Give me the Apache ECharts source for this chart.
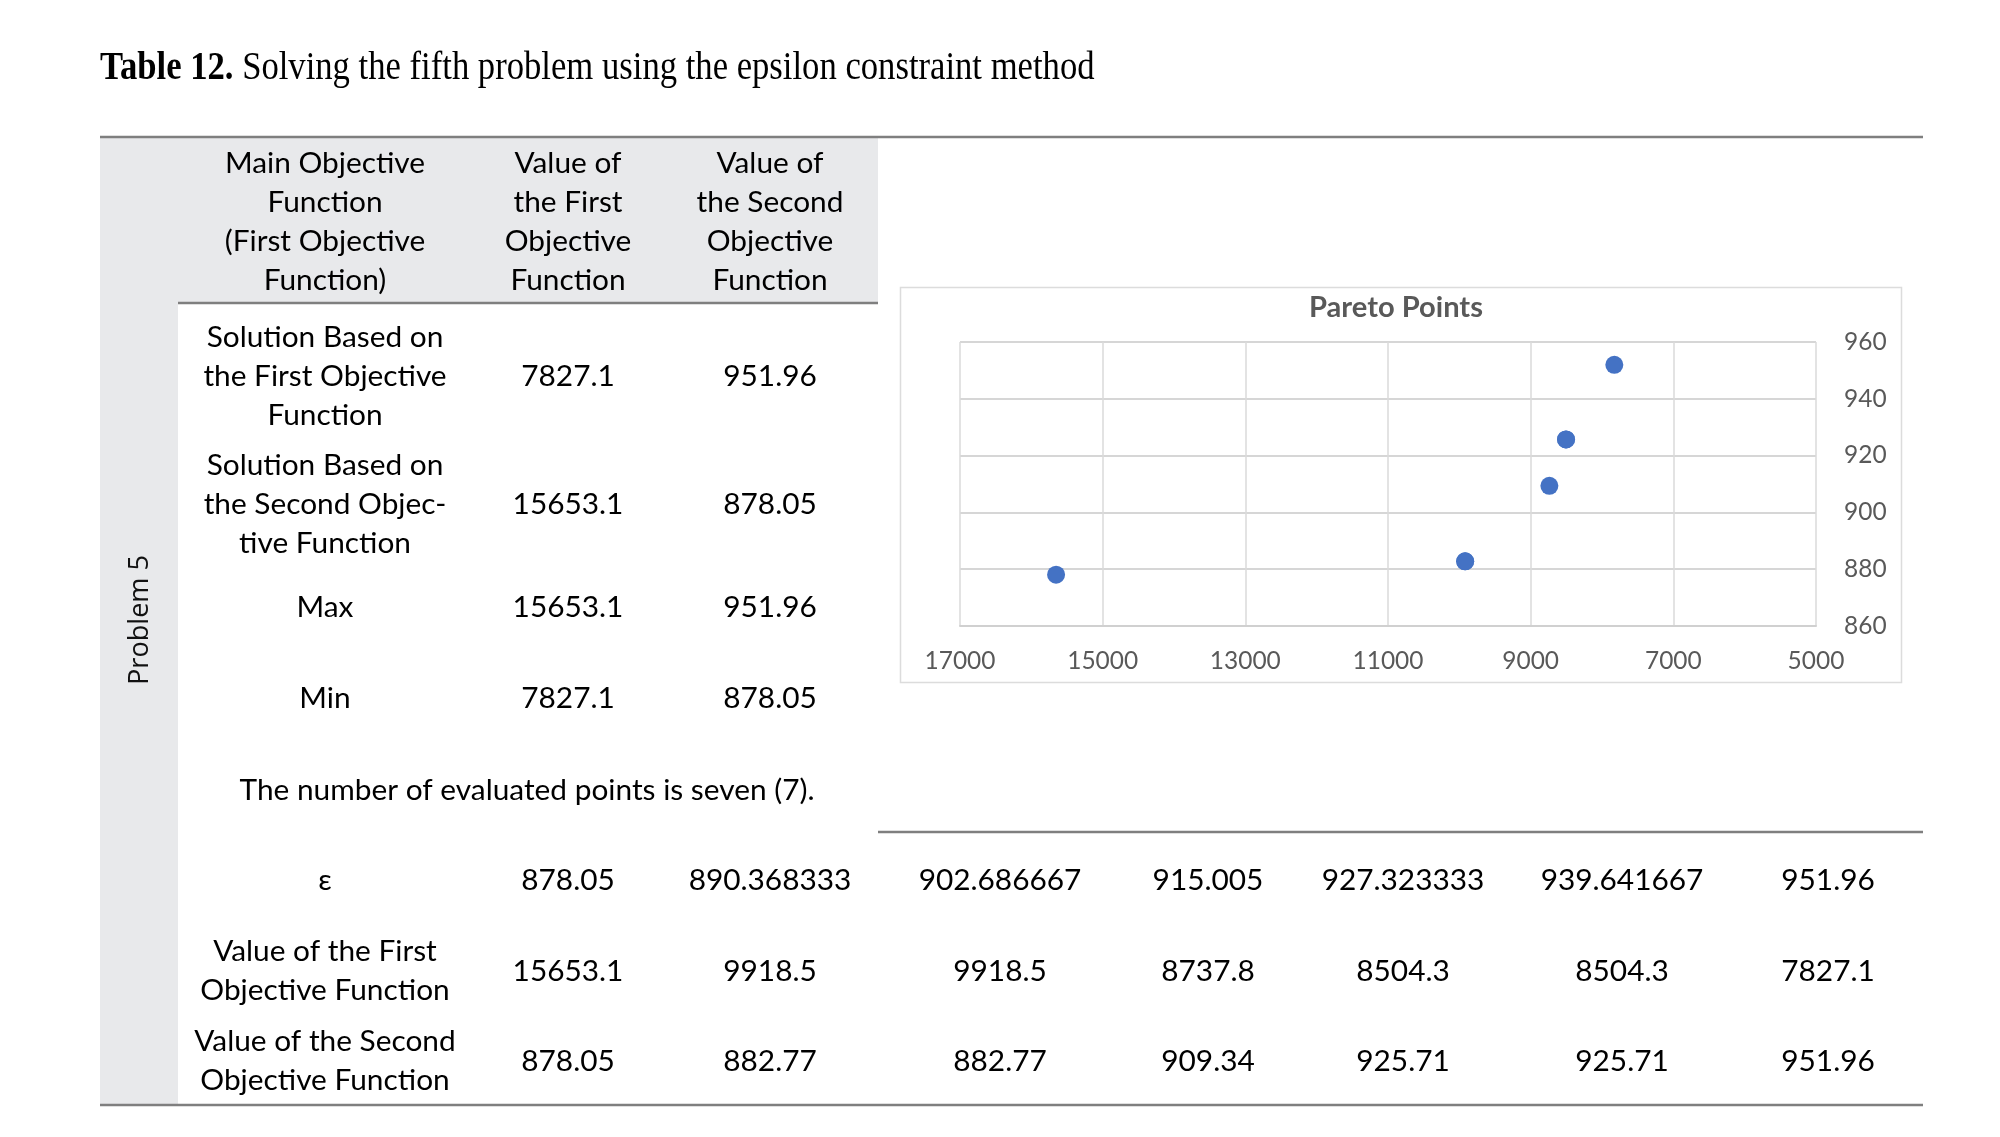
<!DOCTYPE html>
<html>
<head>
<meta charset="utf-8">
<script src="https://cdn.jsdelivr.net/npm/echarts@6/dist/echarts.min.js"></script>
<style>
html,body{margin:0;padding:0;background:#fff;}
#c{width:2000px;height:1137px;}
</style>
</head>
<body>
<div id="c"></div>
<script>
// ---------- data ----------
const titleBold = 'Table 12.';
const titleRest = ' Solving the fifth problem using the epsilon constraint method';
const sideLabel = 'Problem 5';
const headerCols = [
  'Main Objective\nFunction\n(First Objective\nFunction)',
  'Value of\nthe First\nObjective\nFunction',
  'Value of\nthe Second\nObjective\nFunction'
];
const rowLabels = [
  'Solution Based on\nthe First Objective\nFunction',
  'Solution Based on\nthe Second Objec-\ntive Function',
  'Max',
  'Min'
];
const firstObjValues = ['7827.1', '15653.1', '15653.1', '7827.1'];
const secondObjValues = ['951.96', '878.05', '951.96', '878.05'];
const noteText = 'The number of evaluated points is seven (7).';
const epsLabel = 'ε';
const epsilonValues = ['878.05', '890.368333', '902.686667', '915.005', '927.323333', '939.641667', '951.96'];
const f1Label = 'Value of the First\nObjective Function';
const f2Label = 'Value of the Second\nObjective Function';
const f1Values = [15653.1, 9918.5, 9918.5, 8737.8, 8504.3, 8504.3, 7827.1];
const f2Values = [878.05, 882.77, 882.77, 909.34, 925.71, 925.71, 951.96];
const chartTitle = 'Pareto Points';
const xTicks = {min: 5000, max: 17000, interval: 2000};
const yTicks = {min: 860, max: 960, interval: 20};

// ---------- layout helpers ----------
const cv = document.createElement('canvas').getContext('2d');
function fit(text, family, weight, target) {
  cv.font = (weight || 'normal') + ' 100px ' + family;
  return 100 * target / cv.measureText(text).width;
}
const TF = 'Lato';
const tableSize = fit(noteText, TF, 'normal', 575);
const titleSize = fit(titleBold + titleRest, '"Liberation Serif"', 'normal', 990);
const sideSize = fit(sideLabel, '"Open Sans"', 'normal', 130);
const ctSize = fit(chartTitle, TF, 'bold', 174);
const axSize = fit('17000', TF, 'normal', 71);

const colX = [325, 568, 770, 1000, 1208, 1403, 1622, 1828];
const LH = 39;
const ink = '#000';
const lineCol = '#7f7f7f';
const bandCol = '#e8e9eb';

function txt(x, y, text) {
  return {
    type: 'text', x: x, y: y, silent: true,
    style: {
      text: text, fontFamily: TF, fontSize: tableSize, fill: ink,
      align: 'center', verticalAlign: 'middle', lineHeight: LH
    }
  };
}
function hline(x1, x2, y, w, c) {
  return {type: 'line', silent: true, shape: {x1: x1, y1: y, x2: x2, y2: y},
    style: {stroke: c || lineCol, lineWidth: w || 2.5}};
}

const g = [];
// backgrounds
g.push({type: 'rect', silent: true, shape: {x: 100, y: 137, width: 778, height: 166}, style: {fill: bandCol}});
g.push({type: 'rect', silent: true, shape: {x: 100, y: 137, width: 78, height: 968}, style: {fill: bandCol}});
// chart frame
g.push({type: 'rect', silent: true, shape: {x: 900.5, y: 287.5, width: 1001, height: 395},
  style: {fill: 'none', stroke: '#dcdcdc', lineWidth: 1.5}});
// rules
g.push(hline(100, 1923, 137));
g.push(hline(178, 878, 303));
g.push(hline(878, 1923, 832));
g.push(hline(100, 1923, 1105));
// title
g.push({type: 'text', x: 100, y: 69, scaleY: 1.13, silent: true, style: {
  text: '{b|' + titleBold + '}{n|' + titleRest + '}',
  fontFamily: '"Liberation Serif"', fontSize: titleSize, fill: '#000',
  align: 'left', verticalAlign: 'middle',
  rich: {b: {fontWeight: 'bold', fontFamily: '"Liberation Serif"', fontSize: titleSize},
         n: {fontFamily: '"Liberation Serif"', fontSize: titleSize}}
}});
// side label
g.push({type: 'text', x: 140, y: 620, rotation: Math.PI / 2, silent: true, style: {
  text: sideLabel, fontFamily: '"Open Sans"', fontSize: sideSize, fill: '#111',
  align: 'center', verticalAlign: 'middle'}});
// header
headerCols.forEach((h, i) => g.push(txt(colX[i], 222, h)));
// top rows
const rowY = [376, 504, 607, 698];
rowLabels.forEach((r, i) => {
  g.push(txt(colX[0], rowY[i], r));
  g.push(txt(colX[1], rowY[i], firstObjValues[i]));
  g.push(txt(colX[2], rowY[i], secondObjValues[i]));
});
g.push(txt(527, 790, noteText));
// epsilon table
g.push(txt(colX[0], 880, epsLabel));
g.push(txt(colX[0], 971, f1Label));
g.push(txt(colX[0], 1061, f2Label));
epsilonValues.forEach((v, i) => g.push(txt(colX[i + 1], 880, v)));
f1Values.forEach((v, i) => g.push(txt(colX[i + 1], 971, String(v))));
f2Values.forEach((v, i) => g.push(txt(colX[i + 1], 1061, String(v))));
// chart title
g.push({type: 'text', x: 1396, y: 308, silent: true, style: {
  text: chartTitle, fontFamily: TF, fontWeight: 'bold', fontSize: ctSize, fill: '#595959',
  align: 'center', verticalAlign: 'middle'}});

const points = f1Values.map((v, i) => [v, f2Values[i]]);

const chart = echarts.init(document.getElementById('c'), null, {renderer: 'canvas'});
chart.setOption({
  animation: false,
  backgroundColor: '#fff',
  grid: {left: 960, right: 184, top: 342, height: 284, containLabel: false},
  xAxis: {
    type: 'value', inverse: true, min: xTicks.min, max: xTicks.max, interval: xTicks.interval,
    position: 'bottom',
    axisLine: {show: true, lineStyle: {color: '#d0d0d0', width: 2}},
    axisTick: {show: false},
    splitLine: {show: true, lineStyle: {color: '#dadada', width: 1.5}},
    axisLabel: {color: '#595959', fontFamily: TF, fontSize: axSize, margin: 23,
      formatter: v => String(v)}
  },
  yAxis: {
    type: 'value', position: 'right', min: yTicks.min, max: yTicks.max, interval: yTicks.interval,
    axisLine: {show: false},
    axisTick: {show: false},
    splitLine: {show: true, lineStyle: {color: '#d6d6d6', width: 2}},
    axisLabel: {color: '#595959', fontFamily: TF, fontSize: axSize, margin: 28,
      formatter: v => String(v)}
  },
  series: [{
    type: 'scatter', data: points, symbol: 'circle', symbolSize: 18,
    itemStyle: {color: '#4472c4', opacity: 1}, z: 5
  }],
  graphic: {elements: g}
});
</script>
</body>
</html>
